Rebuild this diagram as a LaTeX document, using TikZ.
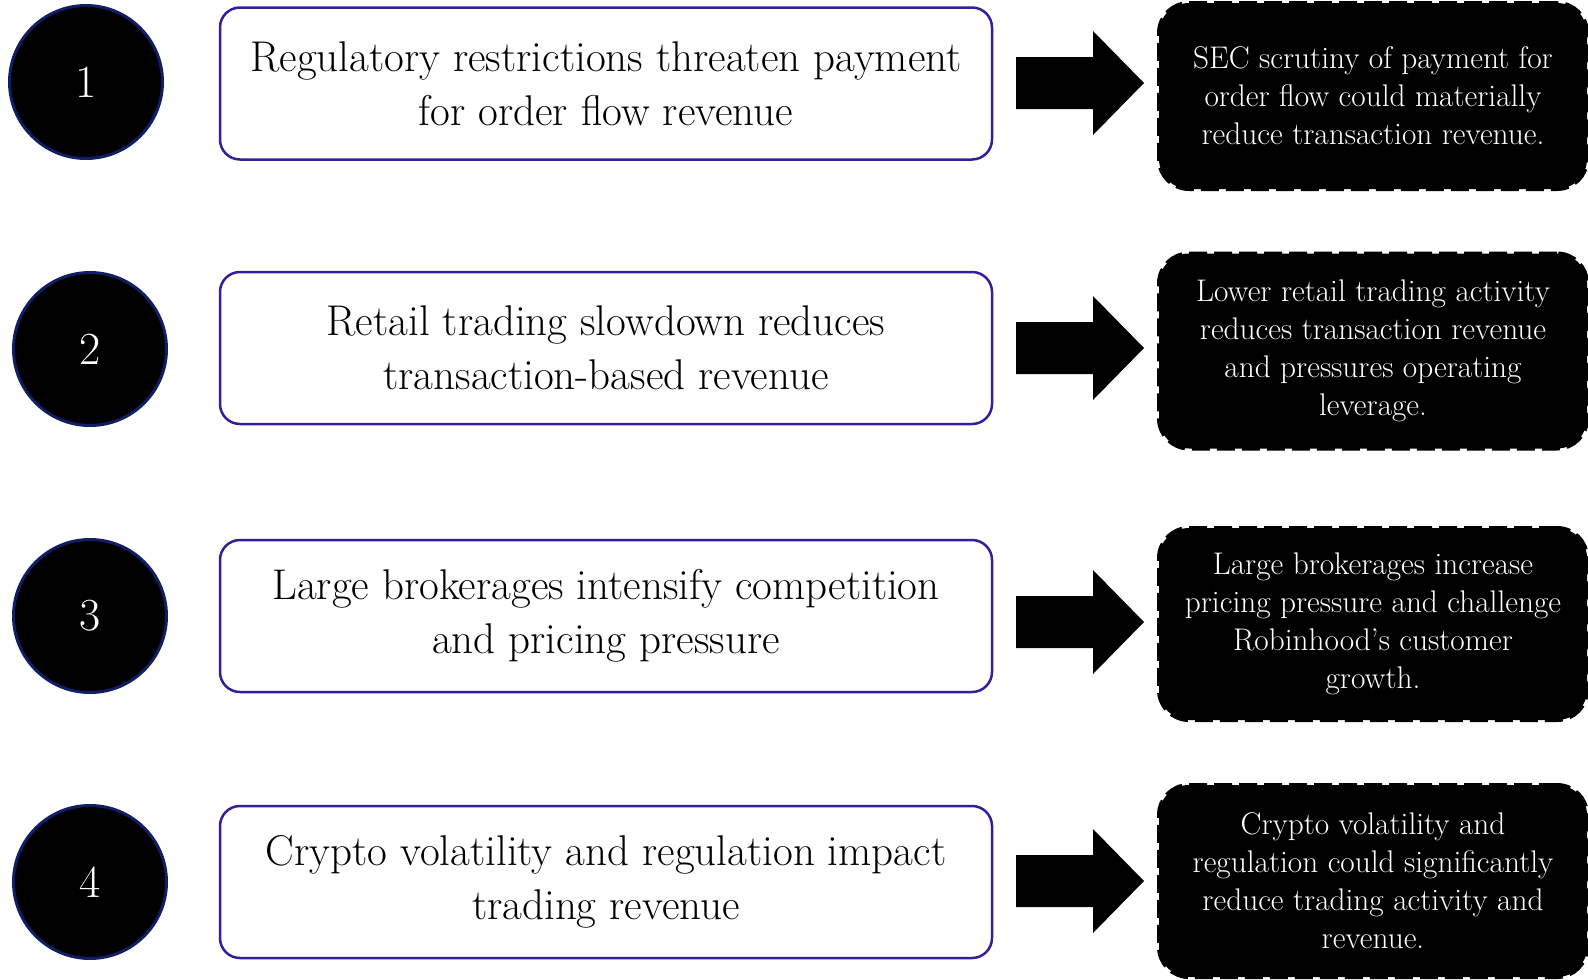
\documentclass[tikz,border=0pt]{standalone}
\definecolor{navy}{HTML}{101E66}
\definecolor{indigo}{HTML}{32209A}
\begin{document}
\begin{tikzpicture}[x=1pt,y=-1pt,
  num/.style={circle, fill=black, draw=navy, line width=3pt, minimum size=153pt, inner sep=0pt, text=white, font=\fontsize{46}{50}\selectfont},
  claim/.style={draw=indigo, line width=2.5pt, rounded corners=20pt, minimum width=772pt, minimum height=152pt, inner sep=0pt, align=center, font=\fontsize{43}{54}\selectfont},
  detail/.style={fill=black, draw=black, dash pattern=on 18pt off 7pt, line width=4pt, rounded corners=30pt, minimum width=428pt, inner sep=0pt, align=center, text=white, font=\fontsize{31.3}{38}\selectfont},
  blockarrow/.style={fill=black, draw=none},
]
\useasboundingbox (0,0) rectangle (1588,980);

\node[num] (n1) at (86,82) {1};
\node[num] (n2) at (90,349) {2};
\node[num] (n3) at (90,616) {3};
\node[num] (n4) at (90,882) {4};

\node[claim] (c1) at (606,83.5) {Regulatory restrictions threaten payment\\for order flow revenue};
\node[claim] (c2) at (606,348) {Retail trading slowdown reduces\\transaction-based revenue};
\node[claim] (c3) at (606,616) {Large brokerages intensify competition\\and pricing pressure};
\node[claim] (c4) at (606,882) {Crypto volatility and regulation impact\\trading revenue};

\node[detail, minimum height=186pt] (d1) at (1373,96) {SEC scrutiny of payment for\\order flow could materially\\reduce transaction revenue.};
\node[detail, minimum height=195pt] (d2) at (1373,351) {Lower retail trading activity\\reduces transaction revenue\\and pressures operating\\leverage.};
\node[detail, minimum height=192pt] (d3) at (1373,624) {Large brokerages increase\\pricing pressure and challenge\\Robinhood's customer\\growth.};
\node[detail, minimum height=192pt] (d4) at (1373,881) {Crypto volatility and\\regulation could significantly\\reduce trading activity and\\revenue.};

\foreach \i/\y in {1/83,2/348,3/622,4/881}{
  \coordinate (a\i) at (1016,\y);
  \fill[blockarrow] (a\i) ++(0,-26) -- ++(77,0) -- ++(0,-26) -- ++(51,52) -- ++(-51,52) -- ++(0,-26) -- ++(-77,0) -- cycle;
}
\end{tikzpicture}
\end{document}
